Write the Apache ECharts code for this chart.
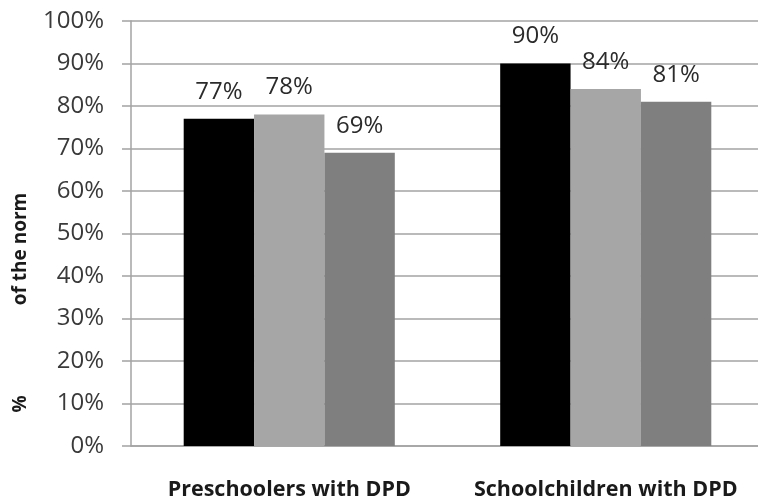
<!DOCTYPE html>
<html>
<head>
<meta charset="utf-8">
<script src="https://cdn.jsdelivr.net/npm/echarts@6/dist/echarts.min.js"></script>
<style>
  html, body { margin: 0; padding: 0; background: #ffffff; }
  #chart { width: 758px; height: 498px; }
</style>
</head>
<body>
<div id="chart"></div>
<script>
// Groups along the x axis
const categories = ['Preschoolers with DPD', 'Schoolchildren with DPD'];
// Three measures per group, in percent of the norm
const seriesA = [77, 90];
const seriesB = [78, 84];
const seriesC = [69, 81];
const seriesColors = ['#000000', '#a6a6a6', '#7f7f7f'];
// Y axis range and step (percent)
const yMin = 0, yMax = 100, yStep = 10;

const font = 'Open Sans';
const gridColor = '#a3a3a3';

function barSeries(values, color) {
  return {
    type: 'bar',
    data: values,
    barGap: '0%',
    barCategoryGap: '33.3%',
    itemStyle: { color: color },
    label: {
      show: true,
      position: 'top',
      distance: 15,
      formatter: '{c}%',
      fontFamily: font,
      fontSize: 24,
      color: '#2b2b2b'
    }
  };
}

const chart = echarts.init(document.getElementById('chart'), null, { renderer: 'canvas' });
chart.setOption({
  animation: false,
  backgroundColor: '#ffffff',
  grid: {
    left: 131, top: 21, width: 633, height: 425,
    containLabel: false,
    outerBoundsMode: 'none'
  },
  xAxis: {
    type: 'category',
    data: categories,
    axisLine: { show: true, lineStyle: { color: gridColor, width: 1.5 } },
    axisTick: { show: false },
    axisLabel: {
      margin: 33,
      fontFamily: font,
      fontWeight: 'bold',
      fontSize: 21.5,
      color: '#1a1a1a',
      interval: 0
    }
  },
  yAxis: {
    type: 'value',
    min: yMin,
    max: yMax,
    interval: yStep,
    axisLine: { show: true, lineStyle: { color: gridColor, width: 1.5 } },
    axisTick: { show: true, length: 9, lineStyle: { color: gridColor, width: 1.5 } },
    splitLine: { show: true, lineStyle: { color: gridColor, width: 1.5 } },
    axisLabel: {
      margin: 27,
      formatter: '{value}%',
      fontFamily: font,
      fontSize: 24,
      color: '#3a3a3a'
    }
  },
  graphic: [
    {
      type: 'text',
      x: 21, y: 404,
      rotation: Math.PI / 2,
      style: {
        text: '%',
        fontFamily: font, fontWeight: 'bold', fontSize: 19,
        fill: '#1a1a1a', align: 'center', verticalAlign: 'middle'
      }
    },
    {
      type: 'text',
      x: 21, y: 249,
      rotation: Math.PI / 2,
      style: {
        text: 'of the norm',
        fontFamily: font, fontWeight: 'bold', fontSize: 19,
        fill: '#1a1a1a', align: 'center', verticalAlign: 'middle'
      }
    }
  ],
  series: [
    barSeries(seriesA, seriesColors[0]),
    barSeries(seriesB, seriesColors[1]),
    barSeries(seriesC, seriesColors[2])
  ]
});
</script>
</body>
</html>
